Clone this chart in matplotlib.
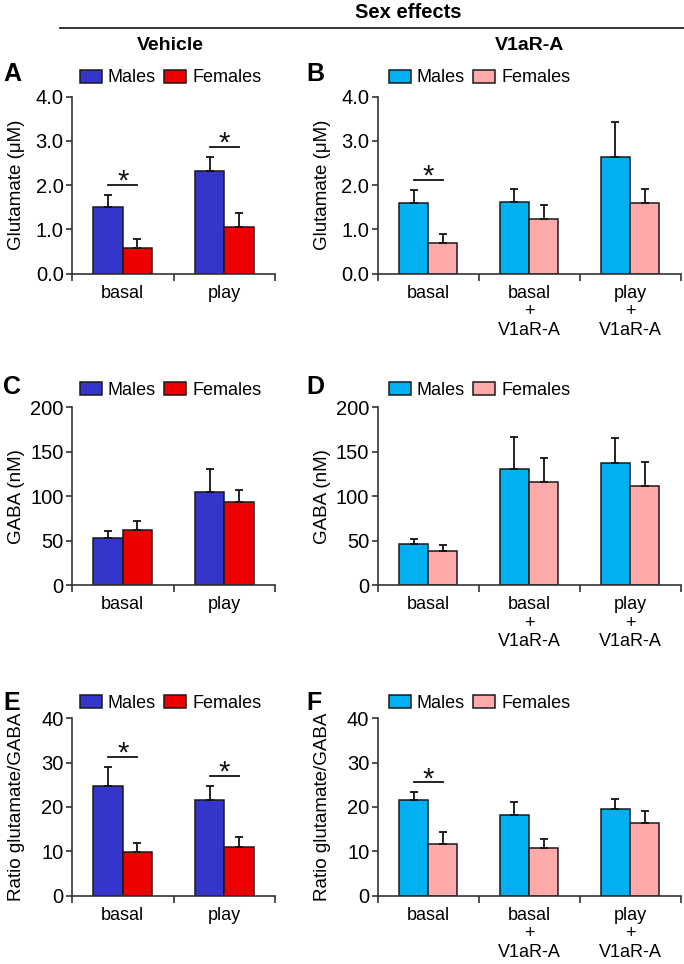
import matplotlib
matplotlib.use("Agg")
import matplotlib.pyplot as plt
from matplotlib.lines import Line2D
import numpy as np

plt.rcParams["font.family"] = ["Liberation Sans", "DejaVu Sans"]
HEAD_FONT = ["Liberation Sans Narrow", "Liberation Sans", "DejaVu Sans"]

# ---- data (mean, upward SEM) ----
veh_groups = ["basal", "play"]
v1a_groups = ["basal", "basal\n+\nV1aR-A", "play\n+\nV1aR-A"]
sexes = ["Males", "Females"]

glu_veh_m = [1.50, 2.33]
glu_veh_m_sem = [0.28, 0.30]
glu_veh_f = [0.57, 1.06]
glu_veh_f_sem = [0.21, 0.31]
glu_v1a_m = [1.59, 1.62, 2.64]
glu_v1a_m_sem = [0.30, 0.30, 0.79]
glu_v1a_f = [0.69, 1.24, 1.59]
glu_v1a_f_sem = [0.20, 0.31, 0.33]

gaba_veh_m = [53, 105]
gaba_veh_m_sem = [8, 26]
gaba_veh_f = [62, 93]
gaba_veh_f_sem = [10, 14]
gaba_v1a_m = [46, 131, 137]
gaba_v1a_m_sem = [6, 36, 28]
gaba_v1a_f = [39, 116, 112]
gaba_v1a_f_sem = [6, 27, 26]

ratio_veh_m = [24.7, 21.6]
ratio_veh_m_sem = [4.3, 3.1]
ratio_veh_f = [9.9, 10.9]
ratio_veh_f_sem = [2.0, 2.3]
ratio_v1a_m = [21.5, 18.1, 19.6]
ratio_v1a_m_sem = [1.8, 3.1, 2.3]
ratio_v1a_f = [11.6, 10.8, 16.4]
ratio_v1a_f_sem = [2.7, 2.0, 2.6]

# significant sex difference per group
sig_glu_veh = [True, True]
sig_glu_v1a = [True, False, False]
sig_gaba_veh = [False, False]
sig_gaba_v1a = [False, False, False]
sig_ratio_veh = [True, True]
sig_ratio_v1a = [True, False, False]

veh_colors = ["#3535CC", "#EE0000"]
v1a_colors = ["#00B0F0", "#FFAAAA"]

W, H = 684, 964
fig = plt.figure(figsize=(W / 100, H / 100), dpi=100)


def px_rect(x0, y0, x1, y1):
    return [x0 / W, 1 - y1 / H, (x1 - x0) / W, (y1 - y0) / H]


def bar_panel(rect, groups, males, males_sem, females, females_sem, sig,
              colors, ymax, step, fmt, ylabel, label_x, letter, letter_xy, legend_xy):
    ax = fig.add_axes(rect)
    n = len(groups)
    x = np.arange(n) + 0.5
    w = 0.29
    err_kw = dict(ecolor="#111111", elinewidth=1.3, capsize=3.2, capthick=1.3)
    ax.bar(x - w / 2, males, w, color=colors[0], edgecolor="#1a1a1a",
           linewidth=1.1, label=sexes[0], zorder=2,
           yerr=[np.zeros(n), males_sem], error_kw=err_kw)
    ax.bar(x + w / 2, females, w, color=colors[1], edgecolor="#1a1a1a",
           linewidth=1.1, label=sexes[1], zorder=2,
           yerr=[np.zeros(n), females_sem], error_kw=err_kw)

    for i in range(n):
        if sig[i]:
            top = max(males[i] + males_sem[i], females[i] + females_sem[i])
            yl = top + 0.058 * ymax
            ax.plot([x[i] - w / 2, x[i] + w / 2], [yl, yl], color="#111111",
                    lw=1.3, clip_on=False)
            ax.annotate("*", (x[i], yl), xytext=(0, -3.6), textcoords="offset points",
                        ha="center", va="baseline", fontsize=21, color="#111111")

    ax.set_xlim(0, n)
    ax.set_ylim(0, ymax)
    ax.set_yticks(np.arange(0, ymax + step / 2, step))
    ax.yaxis.set_major_formatter(matplotlib.ticker.FormatStrFormatter(fmt))
    ax.set_xticks(np.arange(n + 1))
    ax.set_xticklabels([])
    ax.set_xticks(x, minor=True)
    ax.set_xticklabels(groups, minor=True, fontsize=13, linespacing=1.12)
    ax.tick_params(axis="x", which="minor", length=0, pad=8)
    ax.tick_params(axis="x", which="major", length=5, width=1.2,
                   direction="out", color="#333333")
    ax.tick_params(axis="y", length=4, width=1.2, color="#333333",
                   labelsize=14.5, pad=2)
    for s in ["top", "right"]:
        ax.spines[s].set_visible(False)
    for s in ["left", "bottom"]:
        ax.spines[s].set_linewidth(1.2)
        ax.spines[s].set_color("#333333")

    ax.set_ylabel(ylabel, fontsize=13.5)
    ax.yaxis.set_label_coords((label_x - rect[0] * W) / (rect[2] * W), 0.5)

    ax.legend(loc="center left", bbox_to_anchor=(legend_xy[0] / W, 1 - legend_xy[1] / H),
              bbox_transform=fig.transFigure, ncol=2, frameon=False,
              borderpad=0, borderaxespad=0, handlelength=1.2, handleheight=0.75,
              handletextpad=0.35, columnspacing=0.45, fontsize=13)
    fig.text(letter_xy[0] / W, 1 - letter_xy[1] / H, letter, fontsize=18,
             fontweight="bold", family=HEAD_FONT, ha="left", va="center")
    return ax


rows = [(96.7, 273.7), (407.3, 585.2), (718.3, 895.7)]
letter_y = [74, 387, 703]
legend_y = [78, 390.5, 703.5]
left_col = (72, 275)
right_col = (377.7, 680.5)

specs = [
    ("A", "B", "Glutamate (μM)", 4.0, 1.0, "%.1f",
     (glu_veh_m, glu_veh_m_sem, glu_veh_f, glu_veh_f_sem, sig_glu_veh),
     (glu_v1a_m, glu_v1a_m_sem, glu_v1a_f, glu_v1a_f_sem, sig_glu_v1a)),
    ("C", "D", "GABA (nM)", 200, 50, "%d",
     (gaba_veh_m, gaba_veh_m_sem, gaba_veh_f, gaba_veh_f_sem, sig_gaba_veh),
     (gaba_v1a_m, gaba_v1a_m_sem, gaba_v1a_f, gaba_v1a_f_sem, sig_gaba_v1a)),
    ("E", "F", "Ratio glutamate/GABA", 40, 10, "%d",
     (ratio_veh_m, ratio_veh_m_sem, ratio_veh_f, ratio_veh_f_sem, sig_ratio_veh),
     (ratio_v1a_m, ratio_v1a_m_sem, ratio_v1a_f, ratio_v1a_f_sem, sig_ratio_v1a)),
]

for r, (la, lb, ylab, ymax, step, fmt, veh, v1a) in enumerate(specs):
    y0, y1 = rows[r]
    bar_panel(px_rect(left_col[0], y0, left_col[1], y1), veh_groups, *veh,
              veh_colors, ymax, step, fmt, ylab, 25, la, (3, letter_y[r]),
              (80, legend_y[r]))
    bar_panel(px_rect(right_col[0], y0, right_col[1], y1), v1a_groups, *v1a,
              v1a_colors, ymax, step, fmt, ylab, 331, lb, (306, letter_y[r]),
              (389, legend_y[r]))

# headers
fig.text(408 / W, 1 - 13 / H, "Sex effects", ha="center", va="center",
         fontsize=14.5, fontweight="bold", family=HEAD_FONT)
fig.add_artist(Line2D([60 / W, 1.0], [1 - 28 / H, 1 - 28 / H], color="#222222", lw=1.3))
fig.text(170 / W, 1 - 45 / H, "Vehicle", ha="center", va="center",
         fontsize=14, fontweight="bold", family=HEAD_FONT)
fig.text(530 / W, 1 - 45 / H, "V1aR-A", ha="center", va="center",
         fontsize=14, fontweight="bold", family=HEAD_FONT)

fig.savefig("out.png", dpi=100, facecolor="white")
